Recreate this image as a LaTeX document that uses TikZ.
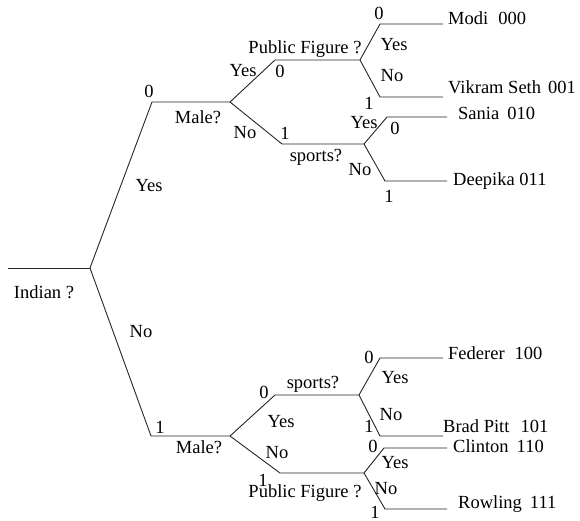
\documentclass[tikz,border=0pt]{standalone}
\usepackage{fontspec}
\setmainfont{Liberation Serif}
\begin{document}
\begin{tikzpicture}[x=1pt,y=-1pt,
  br/.style={draw=black!85,line width=0.9pt},
  lbl/.style={inner sep=0pt,font=\rmfamily\fontsize{18.5}{20}\selectfont},
  leaf/.style={lbl,anchor=west}]
\useasboundingbox (0,0) rectangle (580,521);
% branch points
\coordinate (r0) at (8,268);   \coordinate (r) at (90,268);
\coordinate (a1) at (152,102); \coordinate (a) at (230,102);
\coordinate (b1) at (275,60);  \coordinate (b) at (360,60);
\coordinate (c1) at (282,144); \coordinate (c) at (364,144);
\coordinate (m1) at (380,24);  \coordinate (m) at (443,24);
\coordinate (v1) at (380,97);  \coordinate (v) at (443,97);
\coordinate (s1) at (387,117); \coordinate (s) at (447,117);
\coordinate (d1) at (385,181); \coordinate (d) at (447,181);
\coordinate (e1) at (151,436); \coordinate (e) at (230,436);
\coordinate (f1) at (275,395); \coordinate (f) at (359,395);
\coordinate (g1) at (280,473); \coordinate (g) at (364,473);
\coordinate (fe1) at (380,358); \coordinate (fe) at (443,358);
\coordinate (bp1) at (380,436); \coordinate (bp) at (443,436);
\coordinate (cl1) at (384,448); \coordinate (cl) at (447,448);
\coordinate (ro1) at (385,509); \coordinate (ro) at (447,509);
% connectors
\draw[br] (r0) -- (r);
\draw[br] (r) -- (a1) -- (a);
\draw[br] (a) -- (b1) -- (b);
\draw[br] (a) -- (c1) -- (c);
\draw[br] (b) -- (m1) -- (m);
\draw[br] (b) -- (v1) -- (v);
\draw[br] (c) -- (s1) -- (s);
\draw[br] (c) -- (d1) -- (d);
\draw[br] (r) -- (e1) -- (e);
\draw[br] (e) -- (f1) -- (f);
\draw[br] (e) -- (g1) -- (g);
\draw[br] (f) -- (fe1) -- (fe);
\draw[br] (f) -- (bp1) -- (bp);
\draw[br] (g) -- (cl1) -- (cl);
\draw[br] (g) -- (ro1) -- (ro);
% labels upper
\node[lbl] (t1) at (44,292) {Indian ?};
\node[lbl] (t2) at (149,186) {Yes};
\node[lbl] (t3) at (149,91) {0};
\node[lbl] (t4) at (198,117) {Male?};
\node[lbl] (t5) at (243,71) {Yes};
\node[lbl] (t6) at (280,71) {0};
\node[lbl] (t7) at (305,49) {Public Figure ?};
\node[lbl] (t8) at (245,133) {No};
\node[lbl] (t9) at (285,133) {1};
\node[lbl] (t10) at (316,157) {sports?};
\node[lbl] (t11) at (379,13) {0};
\node[leaf] (t12) at (448,18) {Modi\hspace{10pt}000};
\node[lbl] (t13) at (394,45) {Yes};
\node[lbl] (t14) at (392,76) {No};
\node[lbl] (t15) at (369,103) {1};
\node[leaf] (t16) at (448,87) {Vikram Seth\hspace{7pt}001};
\node[leaf] (t17) at (458,113) {Sania\hspace{8pt}010};
\node[lbl] (t18) at (364,123) {Yes};
\node[lbl] (t19) at (395,128) {0};
\node[lbl] (t20) at (360,170) {No};
\node[lbl] (t21) at (389,196) {1};
\node[leaf] (t22) at (453,181) {Deepika 011};
% labels lower
\node[lbl] (u1) at (141,332) {No};
\node[lbl] (u2) at (160,427) {1};
\node[lbl] (u3) at (199,447) {Male?};
\node[lbl] (u4) at (264,392) {0};
\node[lbl] (u5) at (313,384) {sports?};
\node[lbl] (u6) at (281,422) {Yes};
\node[lbl] (u7) at (277,453) {No};
\node[lbl] (u8) at (263,480) {1};
\node[lbl] (u9) at (305,493) {Public Figure ?};
\node[lbl] (u10) at (369,357) {0};
\node[leaf] (u11) at (448,353) {Federer\hspace{10pt}100};
\node[lbl] (u12) at (395,378) {Yes};
\node[lbl] (u13) at (391,415) {No};
\node[lbl] (u14) at (369,426) {1};
\node[leaf] (u15) at (443,426) {Brad Pitt\hspace{11pt}101};
\node[lbl] (u16) at (373,446) {0};
\node[leaf] (u17) at (453,446) {Clinton\hspace{8pt}110};
\node[lbl] (u18) at (395,463) {Yes};
\node[lbl] (u19) at (386,489) {No};
\node[lbl] (u20) at (375,512) {1};
\node[leaf] (u21) at (458,504) {Rowling\hspace{8pt}111};
\end{tikzpicture}
\end{document}
